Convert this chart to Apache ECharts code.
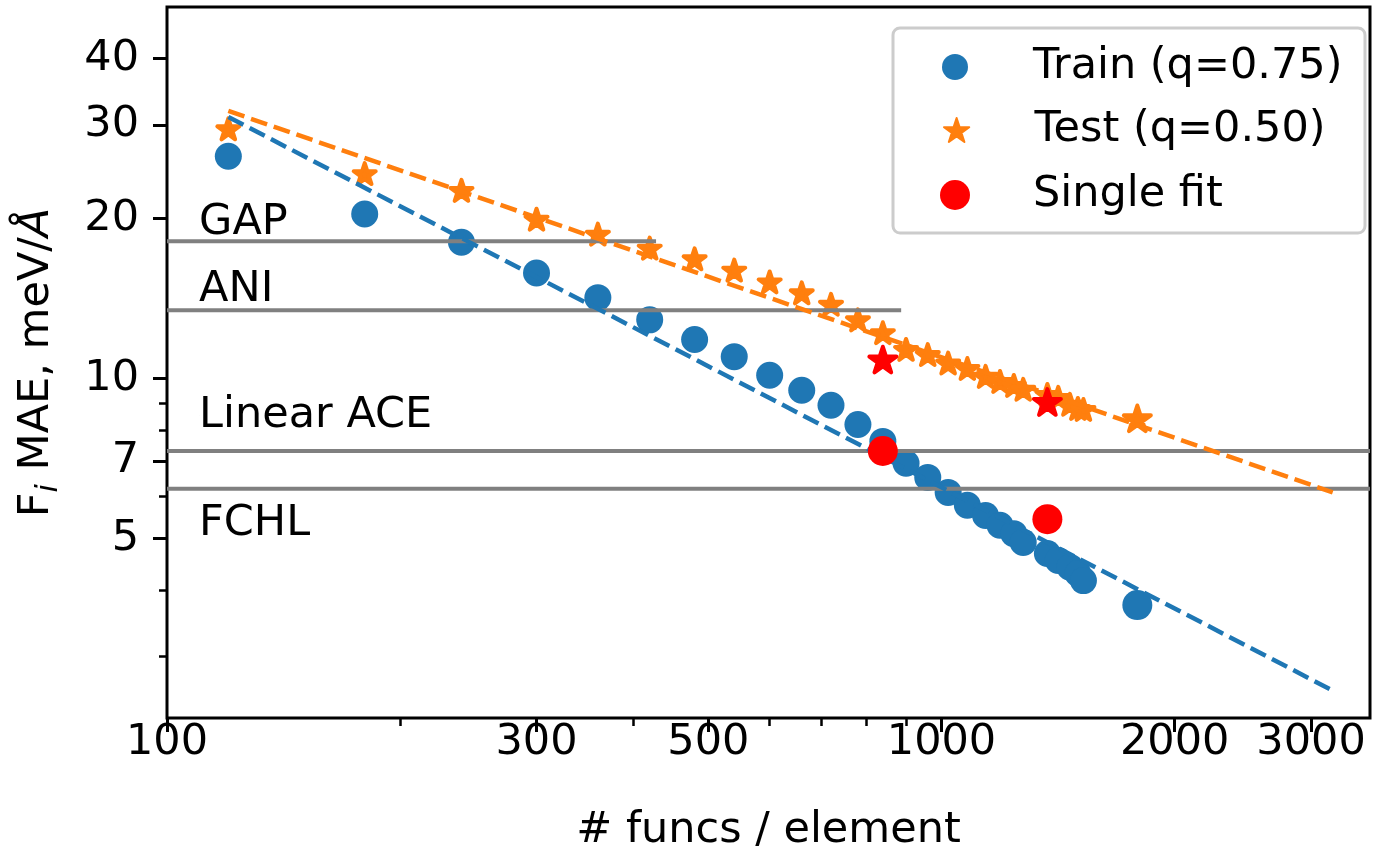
<!DOCTYPE html>
<html>
<head>
<meta charset="utf-8">
<script src="https://cdn.jsdelivr.net/npm/echarts@6/dist/echarts.min.js"></script>
<style>
html, body { margin: 0; padding: 0; background: #fff; }
#chartmain { width: 1377px; height: 847px; }
</style>
</head>
<body>
<div id="chartmain"></div>
<script>
// values
var funcs = [120, 180, 240, 300, 360, 420, 480, 540, 600, 660, 720, 780, 840, 900, 960, 1020, 1080, 1140, 1190, 1240, 1275, 1370, 1415, 1465, 1500, 1525];
var trainMae = [26.2, 20.4, 18.05, 15.8, 14.2, 12.9, 11.85, 11.0, 10.15, 9.51, 8.91, 8.2, 7.62, 6.93, 6.52, 6.11, 5.78, 5.53, 5.30, 5.11, 4.92, 4.69, 4.55, 4.42, 4.30, 4.17];
var testMae = [29.5, 24.3, 22.6, 19.95, 18.7, 17.6, 16.8, 16.0, 15.2, 14.5, 13.8, 12.9, 12.2, 11.35, 11.1, 10.7, 10.45, 10.1, 9.88, 9.71, 9.55, 9.34, 9.22, 8.95, 8.79, 8.75];
// the biggest model is drawn with a larger marker
var bigFuncs = [1790];
var bigTrain = [3.75];
var bigTest = [8.42];
// single fit results
var singleFuncs = [840, 1370];
var singleTrain = [7.31, 5.44];
var singleTest = [10.86, 9.04];
// power-law fits (straight on log-log)
var fitFuncs = [120, 3200];
var trainFit = [31.06, 2.59];
var testFit = [31.88, 6.11];
// reference methods
var refNames = ['GAP', 'ANI', 'Linear ACE', 'FCHL'];
var refMae = [18.13, 13.45, 7.31, 6.21];
var refEnd = [428, 887, 3575, 3575];
var refTextMae = [19.64, 14.66, 8.53, 5.34];
var refTextFuncs = 110;
// axes
var xMin = 100, xMax = 3575;
var yMin = 2.3, yMax = 50;
var xLabels = [100, 300, 500, 1000, 2000, 3000];
var xMinor = [200, 400, 600, 700, 800, 900];
var yLabels = [5, 7, 10, 20, 30, 40];
var yMinor = [3, 4, 6, 8, 9];

var FONT = 'DejaVu Sans';
var FS = 43;
var BLUE = '#1f77b4', ORANGE = '#ff7f0e', RED = '#ff0000', GREY = '#808080';
var STAR = 'path://M0,-100L22.45,-30.9L95.1,-30.9L36.33,11.8L58.78,80.9L0,38.2L-58.78,80.9L-36.33,11.8L-95.1,-30.9L-22.45,-30.9Z';

function pairs(xs, ys) {
    return xs.map(function (x, i) { return [x, ys[i]]; });
}

// stars get an outline of the same colour, like matplotlib marker edges
function starStyle(c) {
    return { color: c, opacity: 1, borderColor: c, borderWidth: 4, borderJoin: 'round' };
}

var series = [
    { name: 'Train (q=0.75)', type: 'scatter', data: pairs(funcs, trainMae), symbol: 'circle', symbolSize: 27, itemStyle: { color: BLUE, opacity: 1 }, z: 2 },
    { name: 'Train (q=0.75)', type: 'scatter', data: pairs(bigFuncs, bigTrain), symbol: 'circle', symbolSize: 30, itemStyle: { color: BLUE, opacity: 1 }, z: 2 },
    { name: 'Test (q=0.50)', type: 'scatter', data: pairs(funcs, testMae), symbol: STAR, symbolKeepAspect: true, symbolSize: 22, itemStyle: starStyle(ORANGE), z: 3 },
    { name: 'Test (q=0.50)', type: 'scatter', data: pairs(bigFuncs, bigTest), symbol: STAR, symbolKeepAspect: true, symbolSize: 27, itemStyle: starStyle(ORANGE), z: 3 }
];

refNames.forEach(function (n, i) {
    series.push({
        name: n, type: 'line', data: [[xMin, refMae[i]], [refEnd[i], refMae[i]]],
        symbol: 'none', lineStyle: { color: GREY, width: 4 }, z: 4, silent: true
    });
});

series.push({
    name: 'refText', type: 'scatter', z: 4, silent: true,
    symbolSize: 0.1, itemStyle: { color: '#000', opacity: 1 },
    data: refNames.map(function (n, i) { return { name: n, value: [refTextFuncs, refTextMae[i]] }; }),
    label: { show: true, position: 'right', distance: 0, formatter: '{b}', fontSize: FS, fontFamily: FONT, color: '#000', opacity: 1 }
});

series.push(
    { name: 'trainFit', type: 'line', data: pairs(fitFuncs, trainFit), symbol: 'none', lineStyle: { color: BLUE, width: 4.5, type: [17, 7] }, z: 5 },
    { name: 'testFit', type: 'line', data: pairs(fitFuncs, testFit), symbol: 'none', lineStyle: { color: ORANGE, width: 4.5, type: [17, 7] }, z: 5 },
    { name: 'Single fit', type: 'scatter', data: pairs(singleFuncs, singleTrain), symbol: 'circle', symbolSize: 30, itemStyle: { color: RED, opacity: 1 }, z: 6 },
    { name: 'singleTest', type: 'scatter', data: pairs(singleFuncs, singleTest), symbol: STAR, symbolKeepAspect: true, symbolSize: 27, itemStyle: starStyle(RED), z: 6 }
);

// icons sit at the left of the item box, so shift each legend by half its icon
function legendFor(name, rowY, iconSize) {
    return {
        data: [name], orient: 'vertical', left: 955 - iconSize / 2, top: rowY + 2 - FS / 2, padding: 0,
        itemWidth: 146, itemHeight: iconSize, selectedMode: false, z: 6,
        textStyle: { fontSize: FS, fontFamily: FONT, color: '#000' }
    };
}

function logAxis(dim, labels, minor, isMinor) {
    var ax = {
        type: 'log', logBase: 10,
        min: dim === 'x' ? xMin : yMin, max: dim === 'x' ? xMax : yMax,
        position: dim === 'x' ? 'bottom' : 'left',
        axisLine: { show: false, onZero: false },
        splitLine: { show: false },
        axisTick: { show: true, customValues: isMinor ? minor : labels, length: isMinor ? 8 : 14, lineStyle: { color: '#000', width: isMinor ? 2.5 : 3 } },
        axisLabel: { show: !isMinor, customValues: labels, fontSize: FS, fontFamily: FONT, color: '#000', margin: dim === 'x' ? 3 : 28, formatter: function (v) { return String(v); } }
    };
    if (!isMinor && dim === 'x') {
        ax.name = '# funcs / element';
        ax.nameLocation = 'middle';
        ax.nameGap = 91;
        ax.nameTextStyle = { fontSize: FS, fontFamily: FONT, color: '#000' };
    }
    if (!isMinor && dim === 'y') {
        ax.name = 'F{sub|i} MAE, meV/{it|Å}';
        ax.nameLocation = 'middle';
        ax.nameRotate = 90;
        ax.nameGap = 103;
        ax.nameTextStyle = {
            fontSize: FS, fontFamily: FONT, color: '#000',
            rich: {
                sub: { fontSize: 30, fontStyle: 'italic', fontFamily: FONT, color: '#000', padding: [24, 0, 0, 0], verticalAlign: 'bottom' },
                it: { fontSize: FS, fontStyle: 'italic', fontFamily: FONT, color: '#000' }
            }
        };
    }
    return ax;
}

var option = {
    animation: false,
    textStyle: { fontFamily: FONT },
    grid: { left: 167, right: 7, top: 7, bottom: 129, outerBoundsMode: 'none', containLabel: false, show: true, borderColor: '#000', borderWidth: 3, backgroundColor: 'transparent' },
    xAxis: [logAxis('x', xLabels, xMinor, false), logAxis('x', xLabels, xMinor, true)],
    yAxis: [logAxis('y', yLabels, yMinor, false), logAxis('y', yLabels, yMinor, true)],
    legend: [
        legendFor('Train (q=0.75)', 65, 26),
        legendFor('Test (q=0.50)', 128, 24),
        legendFor('Single fit', 193, 30)
    ],
    graphic: [{
        type: 'rect', z: 3,
        shape: { x: 893, y: 28, width: 472, height: 205, r: 7 },
        style: { fill: 'rgba(255,255,255,0.8)', stroke: '#cccccc', lineWidth: 3 }
    }],
    series: series
};

var myChart = echarts.init(document.getElementById('chartmain'));
myChart.setOption(option);
</script>
</body>
</html>
